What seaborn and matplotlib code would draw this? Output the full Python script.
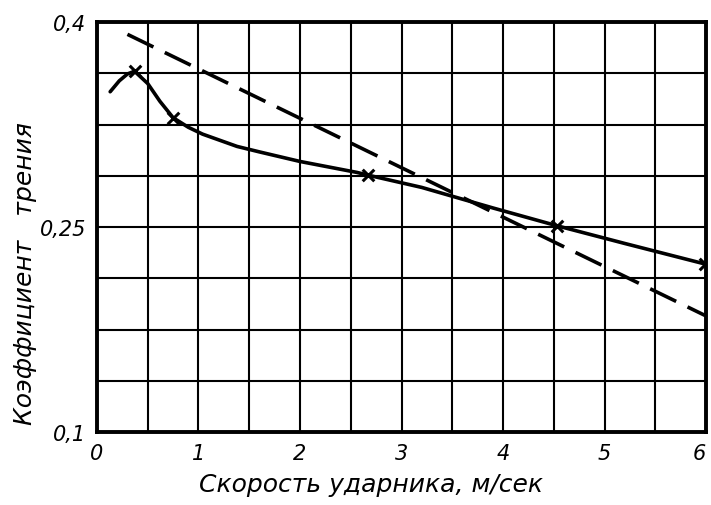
import matplotlib.pyplot as plt
import numpy as np
import seaborn as sns

# Data
curve_x = [0.13, 0.22, 0.30, 0.37, 0.50, 0.62, 0.75, 0.90, 1.04, 1.38, 1.60, 2.00, 2.56, 2.67, 3.20, 3.90, 4.53, 5.20, 5.99]
curve_y = [0.349, 0.357, 0.362, 0.364, 0.355, 0.342, 0.330, 0.323, 0.318, 0.309, 0.305, 0.298, 0.290, 0.288, 0.279, 0.264, 0.251, 0.238, 0.223]
mark_x = [0.37, 0.75, 2.67, 4.53, 5.99]
mark_y = [0.364, 0.330, 0.288, 0.251, 0.223]
dash_x = [0.30, 6.00]
dash_y = [0.391, 0.185]

x_ticks = [0, 1, 2, 3, 4, 5, 6]
y_ticks = [0.1, 0.25, 0.4]
y_tick_labels = ["0,1", "0,25", "0,4"]

LINE_WIDTH = 2.6
GRID_WIDTH = 1.5
EDGE_COLOR = "black"

sns.set_theme(style="white")
plt.rcParams["font.family"] = ["DejaVu Sans"]

fig = plt.figure(figsize=(7.11, 5.06), dpi=100)
ax = fig.add_axes([0.1364, 0.144, 0.8566, 0.8105])

sns.lineplot(x=curve_x, y=curve_y, ax=ax, color=EDGE_COLOR, linewidth=LINE_WIDTH, sort=False)
sns.lineplot(x=dash_x, y=dash_y, ax=ax, color=EDGE_COLOR, linewidth=LINE_WIDTH, linestyle=(0, (8, 3.5)))
sns.scatterplot(x=mark_x, y=mark_y, ax=ax, marker="x", s=70, color=EDGE_COLOR, linewidth=2.2, zorder=5)

ax.set_xlim(0, 6)
ax.set_ylim(0.1, 0.4)

# grid every 0.5 on x and every 0.0375 on y
for gx in np.arange(0.5, 6, 0.5):
    ax.axvline(gx, color=EDGE_COLOR, linewidth=GRID_WIDTH, zorder=0)
for gy in np.linspace(0.1, 0.4, 9)[1:-1]:
    ax.axhline(gy, color=EDGE_COLOR, linewidth=GRID_WIDTH, zorder=0)

for spine in ax.spines.values():
    spine.set_color(EDGE_COLOR)
    spine.set_linewidth(2.8)

ax.set_xticks(x_ticks)
ax.set_xticklabels([str(t) for t in x_ticks], fontsize=15, style="italic")
ax.get_xticklabels()[-1].set_horizontalalignment("right")
ax.set_yticks(y_ticks)
ax.set_yticklabels(y_tick_labels, fontsize=15, style="italic")
ax.tick_params(length=0, pad=8, colors=EDGE_COLOR)

ax.set_xlabel("Скорость ударника, м/сек", fontsize=18, style="italic", color=EDGE_COLOR)
ax.set_ylabel("Коэффициент   трения", fontsize=18, style="italic", color=EDGE_COLOR)
ax.xaxis.set_label_coords(0.45, -0.098)
ax.yaxis.set_label_coords(-0.098, 0.39)

fig.savefig("out.png", dpi=100)
